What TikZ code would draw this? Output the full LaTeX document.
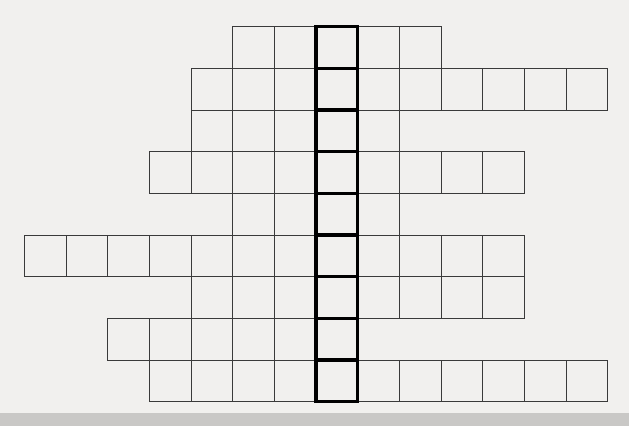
\documentclass[tikz,border=0pt]{standalone}
\usepackage{xcolor}
\usepackage{tikz}
\usetikzlibrary{positioning}
\definecolor{paper}{HTML}{F1F0EE}
\definecolor{gridline}{HTML}{3A3A3A}
\definecolor{edgeband}{HTML}{C9C8C6}

\begin{document}
\begin{tikzpicture}[x=31.24pt, y=-31.24pt,
    cell/.style={draw=gridline, rectangle, line width=0.6pt, minimum size=31.24pt, inner sep=0pt},
    keycell/.style={draw=black, rectangle, line width=2.6pt, minimum size=31.24pt, inner sep=0pt}]
    % Paper
    \fill[paper] (-0.588,-0.641) rectangle (14.514,9.587);
    \fill[edgeband] (-0.588,9.28) rectangle (14.514,9.587);
    \useasboundingbox (-0.588,-0.641) rectangle (14.514,9.587);

    % Rows of the grid: row/first column/last column
    \foreach \r/\first/\last in {0/5/9, 1/4/13, 2/4/8, 3/3/11, 4/5/8, 5/0/11, 6/4/11, 7/2/7, 8/3/13} {
        \foreach \c in {\first,...,\last} {
            \node [cell] (c-\r-\c) at (\c+0.5,\r+0.5) {};
        }
    }

    % Key column
    \foreach \r in {0,...,8} {
        \node [keycell] (k-\r) at (7.5,\r+0.5) {};
    }
\end{tikzpicture}
\end{document}
